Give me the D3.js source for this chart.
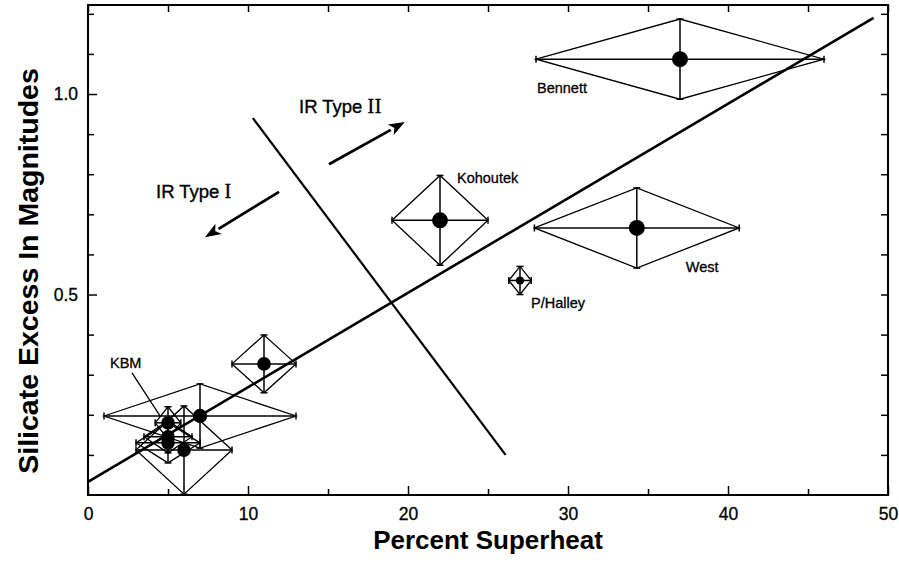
<!DOCTYPE html>
<html>
<head>
<meta charset="utf-8">
<script src="https://cdn.jsdelivr.net/npm/d3@7"></script>
<style>
  html, body { margin: 0; padding: 0; background: #fff; }
  svg { display: block; }
  text { font-family: "Liberation Sans", Arial, Helvetica, sans-serif; fill: #000; }
</style>
</head>
<body>
<div id="chart"></div>
<script>
// Comet silicate excess versus percent superheat
const names   = ["Bennett", "Kohoutek", "West", "P/Halley", "", "", "KBM", "", "", ""];
const superheat = [37.0, 22.0, 34.3, 27.0, 11.0, 7.0, 5.0, 5.0, 5.0, 6.0];
const superheatErr = [9.0, 3.0, 6.4, 0.7, 2.0, 6.0, 0.8, 1.5, 2.0, 3.0];
const silicate = [1.087, 0.685, 0.666, 0.535, 0.327, 0.197, 0.180, 0.145, 0.130, 0.112];
const silicateErr = [0.10, 0.112, 0.10, 0.035, 0.072, 0.08, 0.04, 0.04, 0.05, 0.11];

// Linear trend and the Type I / Type II boundary (data units)
const fitX = [0, 49.1];
const fitY = [0.033, 1.19];
const divX = [10.3, 26.1];
const divY = [0.94, 0.10];

// Tick values
const xMajor = [0, 10, 20, 30, 40, 50];
const xMinor = [5, 15, 25, 35, 45];
const yMajor = [0.5, 1.0];
const yMinor = [0.1, 0.2, 0.3, 0.4, 0.6, 0.7, 0.8, 0.9, 1.1, 1.2];

const W = 899, H = 563;
const plotL = 88, plotR = 888, plotT = 5, plotB = 495;

const x = d3.scaleLinear().domain([0, 50]).range([plotL, plotR]);
const y = d3.scaleLinear().domain([0, 1.222]).range([plotB, plotT]);

const svg = d3.select("#chart").append("svg")
  .attr("width", W).attr("height", H);

// Frame
svg.append("rect")
  .attr("x", plotL).attr("y", plotT)
  .attr("width", plotR - plotL).attr("height", plotB - plotT)
  .attr("fill", "none").attr("stroke", "#000").attr("stroke-width", 2);

// Axes with inward ticks on all four sides
function styleAxis(g) {
  g.select(".domain").remove();
  g.selectAll(".tick line").attr("stroke", "#000").attr("stroke-width", 1.5);
  g.selectAll(".tick text").attr("font-size", 17.5)
    .attr("font-family", "'Liberation Sans', Arial, sans-serif")
    .attr("stroke", "#000").attr("stroke-width", 0.3);
}
const fmtX = d3.format("d"), fmtY = d3.format(".1f");

svg.append("g").attr("transform", `translate(0,${plotB})`)
  .call(d3.axisBottom(x).tickValues(xMajor).tickSize(-9).tickPadding(13).tickFormat(fmtX))
  .call(styleAxis);
svg.append("g").attr("transform", `translate(0,${plotB})`)
  .call(d3.axisBottom(x).tickValues(xMinor).tickSize(-6).tickFormat(""))
  .call(styleAxis);
svg.append("g").attr("transform", `translate(0,${plotT})`)
  .call(d3.axisTop(x).tickValues(xMajor.concat(xMinor)).tickSize(-7).tickFormat(""))
  .call(styleAxis);

svg.append("g").attr("transform", `translate(${plotL},0)`)
  .call(d3.axisLeft(y).tickValues(yMajor).tickSize(-9).tickPadding(10).tickFormat(fmtY))
  .call(styleAxis);
svg.append("g").attr("transform", `translate(${plotL},0)`)
  .call(d3.axisLeft(y).tickValues(yMinor).tickSize(-6).tickFormat(""))
  .call(styleAxis);
svg.append("g").attr("transform", `translate(${plotR},0)`)
  .call(d3.axisRight(y).tickValues(yMajor.concat(yMinor)).tickSize(-7).tickFormat(""))
  .call(styleAxis);

// Axis titles
svg.append("text")
  .attr("x", (plotL + plotR) / 2).attr("y", 549)
  .attr("text-anchor", "middle")
  .attr("font-size", 26).attr("font-weight", "bold")
  .text("Percent Superheat");

svg.append("text")
  .attr("transform", "translate(38,271) rotate(-90)")
  .attr("text-anchor", "middle")
  .attr("font-size", 28.5).attr("font-weight", "bold")
  .text("Silicate Excess In Magnitudes");

// Trend line and boundary
const line = d3.line().x(d => x(d[0])).y(d => y(d[1]));
svg.append("path")
  .attr("d", line(d3.zip(fitX, fitY)))
  .attr("fill", "none").attr("stroke", "#000").attr("stroke-width", 2.6);
svg.append("path")
  .attr("d", line(d3.zip(divX, divY)))
  .attr("fill", "none").attr("stroke", "#000").attr("stroke-width", 2.2);

// Direction arrows
const arrows = [
  { from: [15.06, 0.825], to: [19.8, 0.930] },
  { from: [11.94, 0.756], to: [7.31, 0.643] }
];
arrows.forEach(a => {
  const x1 = x(a.from[0]), y1 = y(a.from[1]);
  const x2 = x(a.to[0]), y2 = y(a.to[1]);
  const ang = Math.atan2(y2 - y1, x2 - x1);
  const hl = 16, hw = 6;
  const bx = x2 - hl * Math.cos(ang), by = y2 - hl * Math.sin(ang);
  svg.append("line")
    .attr("x1", x1).attr("y1", y1).attr("x2", bx).attr("y2", by)
    .attr("stroke", "#000").attr("stroke-width", 2.8);
  const px = -Math.sin(ang) * hw, py = Math.cos(ang) * hw;
  svg.append("path")
    .attr("d", `M${x2},${y2}L${bx + px},${by + py}L${bx + 4 * Math.cos(ang)},${by + 4 * Math.sin(ang)}L${bx - px},${by - py}Z`)
    .attr("fill", "#000");
});

// Region labels
function typeLabel(tx, ty, numeral) {
  const t = svg.append("text").attr("x", tx).attr("y", ty).attr("font-size", 18.5)
    .attr("stroke", "#000").attr("stroke-width", 0.35);
  t.append("tspan").text("IR Type ");
  t.append("tspan").attr("font-family", "'Liberation Serif', 'Times New Roman', serif")
    .attr("font-size", 20).attr("letter-spacing", 0.5).text(numeral);
}
typeLabel(299, 113, "II");
typeLabel(156, 198, "I");

// Data points: diamond joining error-bar ends, crossed error bars, caps, dot
const data = superheat.map((v, i) => ({
  name: names[i], x: v, dx: superheatErr[i], y: silicate[i], dy: silicateErr[i]
}));
const dotR = [8, 8, 8, 4, 6.8, 7.2, 6.8, 6.8, 6.8, 6.8];
const cap = 3.5;

const pts = svg.append("g");
data.forEach((d, i) => {
  const cx = x(d.x), cy = y(d.y);
  const xl = x(d.x - d.dx), xr = x(d.x + d.dx);
  const yt = y(d.y + d.dy), yb = y(d.y - d.dy);
  const g = pts.append("g");
  g.append("path")
    .attr("d", `M${xl},${cy}L${cx},${yt}L${xr},${cy}L${cx},${yb}Z`)
    .attr("fill", "none").attr("stroke", "#000").attr("stroke-width", 1.3);
  g.append("line").attr("x1", xl).attr("x2", xr).attr("y1", cy).attr("y2", cy)
    .attr("stroke", "#000").attr("stroke-width", 1.5);
  g.append("line").attr("x1", cx).attr("x2", cx).attr("y1", yt).attr("y2", yb)
    .attr("stroke", "#000").attr("stroke-width", 1.5);
  [[xl, cy, 0], [xr, cy, 0], [cx, yt, 1], [cx, yb, 1]].forEach(c => {
    g.append("line")
      .attr("x1", c[2] ? c[0] - cap : c[0]).attr("x2", c[2] ? c[0] + cap : c[0])
      .attr("y1", c[2] ? c[1] : c[1] - cap).attr("y2", c[2] ? c[1] : c[1] + cap)
      .attr("stroke", "#000").attr("stroke-width", 1.5);
  });
  g.append("circle").attr("cx", cx).attr("cy", cy).attr("r", dotR[i]).attr("fill", "#000");
});

// Comet name labels (pixel offsets from each point)
const labelOffset = {
  "Bennett": [-143, 34],
  "Kohoutek": [17, -37],
  "West": [49, 44],
  "P/Halley": [11, 28],
  "KBM": [-58, -55]
};
data.filter(d => d.name).forEach(d => {
  const o = labelOffset[d.name];
  svg.append("text")
    .attr("x", x(d.x) + o[0]).attr("y", y(d.y) + o[1])
    .attr("font-size", 14.5)
    .attr("stroke", "#000").attr("stroke-width", 0.3)
    .text(d.name);
});
// KBM pointer
const kbm = data.find(d => d.name === "KBM");
svg.append("line")
  .attr("x1", x(kbm.x) - 36).attr("y1", y(kbm.y) - 50)
  .attr("x2", x(kbm.x) - 8).attr("y2", y(kbm.y) - 7)
  .attr("stroke", "#000").attr("stroke-width", 1.3);
</script>
</body>
</html>
